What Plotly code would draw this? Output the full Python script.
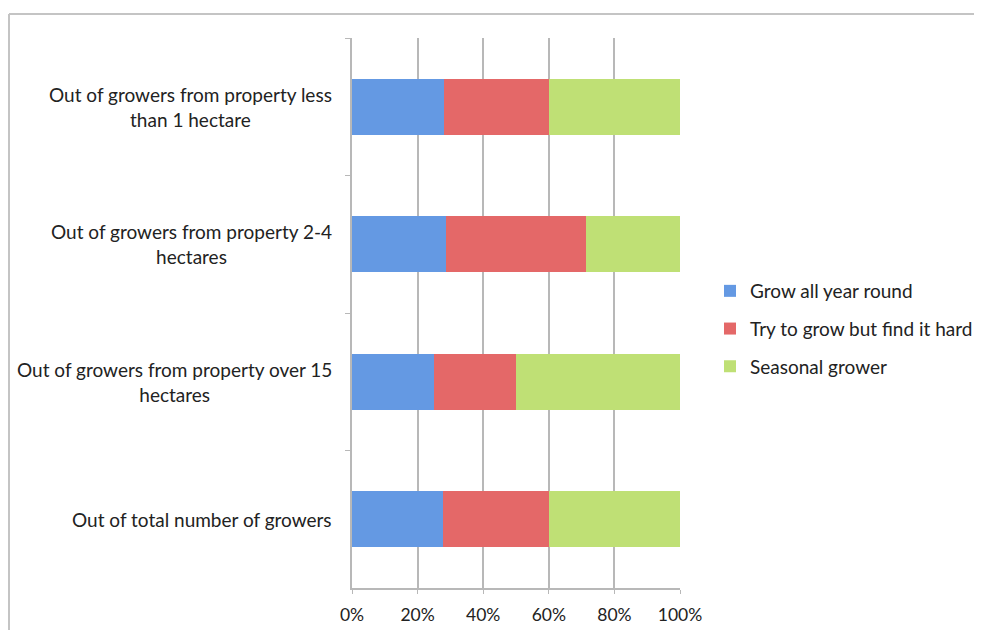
import plotly.graph_objects as go

categories = [
    "Out of growers from property less<br>than 1 hectare",
    "Out of growers from property 2-4<br>hectares",
    "Out of growers from property over 15<br>hectares",
    "Out of total number of growers",
]
series_names = ["Grow all year round", "Try to grow but find it hard", "Seasonal grower"]
grow_all_year = [0.28, 0.286, 0.25, 0.276]
try_but_hard = [0.32, 0.428, 0.25, 0.324]
seasonal = [0.40, 0.286, 0.50, 0.40]
x_ticks = [0, 0.2, 0.4, 0.6, 0.8, 1.0]

colors = ["#6499e3", "#e46868", "#bfe075"]
FONT = "Lato"
TXT = "#222222"

fig = go.Figure()
for name, vals, col in zip(series_names, [grow_all_year, try_but_hard, seasonal], colors):
    fig.add_trace(go.Bar(
        y=categories, x=vals, name=name, orientation="h",
        marker=dict(color=col, line=dict(width=0)),
        legendgroup=name,
    ))

# page body has an 8px margin; work in figure coordinates (screen = fig + 8).
# Figure is made larger than the viewport so the legend never pushes margins.
OFF = 8
W, H = 1100, 700
L, T = 352 - OFF, 38 - OFF
R = W - (680 - OFF)
B = H - (588 - OFF)
pw, ph = W - L - R, H - T - B

def px_x(px):
    return (px - OFF - L) / pw

def px_y(py):
    return (H - B - (py - OFF)) / ph

annotations = []
for c in categories:
    annotations.append(dict(
        x=px_x(334), xref="paper", y=c, yref="y",
        text=c, showarrow=False, xanchor="right", yanchor="middle",
        align="center", font=dict(family=FONT, size=19, color=TXT),
    ))

shapes = [
    dict(type="line", xref="paper", yref="paper",
         x0=px_x(9), x1=px_x(9), y0=px_y(700), y1=px_y(14),
         line=dict(color="#c4c4c4", width=2)),
    dict(type="line", xref="paper", yref="paper",
         x0=px_x(9), x1=px_x(1100), y0=px_y(14), y1=px_y(14),
         line=dict(color="#c4c4c4", width=2)),
]

fig.update_layout(
    width=W, height=H,
    margin=dict(l=L, r=R, t=T, b=B),
    barmode="stack", bargap=0.59,
    plot_bgcolor="white", paper_bgcolor="white",
    font=dict(family=FONT, size=19, color=TXT),
    xaxis=dict(
        range=[0, 1], tickvals=x_ticks, tickformat=".0%",
        showgrid=True, gridcolor="#b8b8b8", gridwidth=1.5,
        showline=True, linecolor="#b8b8b8", linewidth=1.5,
        ticks="outside", ticklen=4, tickcolor="#b8b8b8",
        ticklabelstandoff=6,
        zeroline=False, tickfont=dict(family=FONT, size=17.5, color=TXT),
        fixedrange=True,
    ),
    yaxis=dict(
        autorange="reversed", showticklabels=False,
        showline=True, linecolor="#b8b8b8", linewidth=1.5,
        ticks="outside", ticklen=5, tickcolor="#b8b8b8", tickson="boundaries",
        showgrid=False, zeroline=False,
    ),
    legend=dict(
        x=px_x(710), y=px_y(329), xanchor="left", yanchor="middle",
        traceorder="grouped", tracegroupgap=10,
        font=dict(family=FONT, size=19, color=TXT),
        itemwidth=30, bgcolor="rgba(0,0,0,0)",
    ),
    annotations=annotations,
    shapes=shapes,
)

fig.write_html("out.html")
